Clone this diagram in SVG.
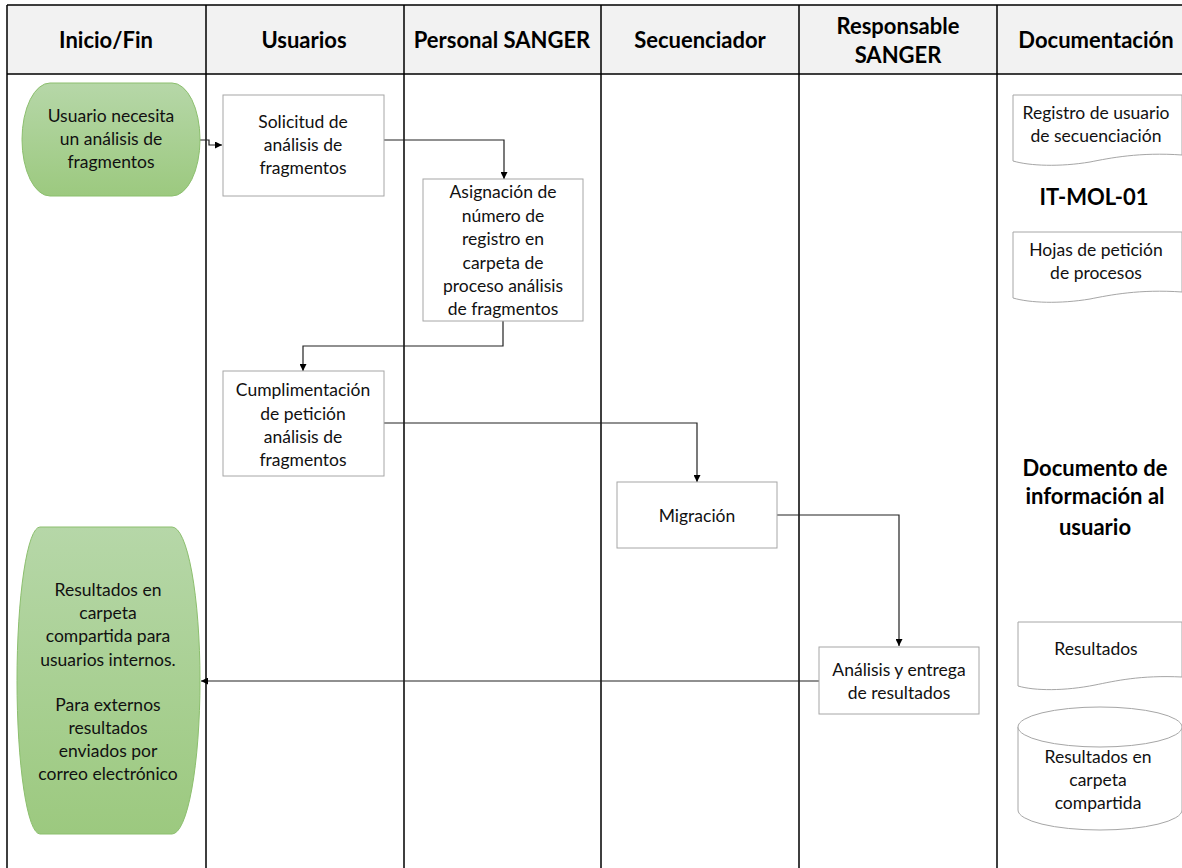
<svg xmlns="http://www.w3.org/2000/svg" width="1182" height="868" viewBox="0 0 1182 868">
  <defs>
    <linearGradient id="green" x1="0" y1="0" x2="0" y2="1">
      <stop offset="0" stop-color="#b6d7a8"/>
      <stop offset="1" stop-color="#9cc97f"/>
    </linearGradient>
    <marker id="arrow" viewBox="0 0 10 10" refX="10" refY="5" markerWidth="7" markerHeight="7" markerUnits="userSpaceOnUse" orient="auto">
      <path d="M0,0 L10,5 L0,10 Z" fill="#000"/>
    </marker>
    <style>
      .lane { stroke: #000; stroke-width: 1.5; fill: none; }
      .head { font-family: Lato, "Liberation Sans", sans-serif; font-weight: bold; font-size: 22px; fill: #000; text-anchor: middle; }
      .txt { font-family: Lato, "Liberation Sans", sans-serif; font-size: 17.5px; fill: #111; text-anchor: middle; }
      .bold { font-family: Lato, "Liberation Sans", sans-serif; font-weight: bold; font-size: 22px; fill: #000; text-anchor: middle; }
      .box { fill: #fff; stroke: #a6a6a6; stroke-width: 1; }
      .term { fill: url(#green); stroke: #8cbf6e; stroke-width: 1; }
      .doc { fill: #fff; stroke: #a6a6a6; stroke-width: 1; }
      .conn { fill: none; stroke: #222; stroke-width: 1.2; }
    </style>
  </defs>

  <rect x="0" y="0" width="1182" height="868" fill="#fff"/>

  <!-- swimlane frame -->
  <g id="lanes">
    <rect x="7" y="5" width="1180" height="69" fill="#f2f2f2"/>
    <path class="lane" d="M7,5 H1182 M7,74 H1182 M7,5 V868 M206,5 V868 M404,5 V868 M601,5 V868 M799,5 V868 M997,5 V868"/>
    <text class="head" x="106" y="48">Inicio/Fin</text>
    <text class="head" x="304" y="48">Usuarios</text>
    <text class="head" x="502" y="48">Personal SANGER</text>
    <text class="head" x="700" y="48">Secuenciador</text>
    <text class="head" x="898" y="34">Responsable</text>
    <text class="head" x="898" y="63">SANGER</text>
    <text class="head" x="1096" y="48">Documentación</text>
  </g>

  <!-- connectors -->
  <g id="connectors">
    <path class="conn" d="M200,140 H209 V145 H222" marker-end="url(#arrow)"/>
    <path class="conn" d="M384,140 H504 V179" marker-end="url(#arrow)"/>
    <path class="conn" d="M503,321 V346 H303 V371" marker-end="url(#arrow)"/>
    <path class="conn" d="M384,423 H697 V482" marker-end="url(#arrow)"/>
    <path class="conn" d="M777,515 H899 V646" marker-end="url(#arrow)"/>
    <path class="conn" d="M819,681 H201" marker-end="url(#arrow)"/>
  </g>

  <g id="start">
    <path class="term" d="M50,83 H172 A28,56.5 0 0 1 172,196 H50 A28,56.5 0 0 1 50,83 Z"/>
    <text class="txt" x="111" y="122">Usuario necesita</text>
    <text class="txt" x="111" y="145">un análisis de</text>
    <text class="txt" x="111" y="168">fragmentos</text>
  </g>

  <g id="solicitud">
    <rect class="box" x="223" y="95" width="161" height="101"/>
    <text class="txt" x="303" y="128">Solicitud de</text>
    <text class="txt" x="303" y="151">análisis de</text>
    <text class="txt" x="303" y="174">fragmentos</text>
  </g>

  <g id="asignacion">
    <rect class="box" x="423" y="179" width="160" height="142"/>
    <text class="txt" x="503" y="198">Asignación de</text>
    <text class="txt" x="503" y="222">número de</text>
    <text class="txt" x="503" y="245">registro en</text>
    <text class="txt" x="503" y="269">carpeta de</text>
    <text class="txt" x="503" y="292">proceso análisis</text>
    <text class="txt" x="503" y="315">de fragmentos</text>
  </g>

  <g id="cumplimentacion">
    <rect class="box" x="223" y="371" width="161" height="105"/>
    <text class="txt" x="303" y="396">Cumplimentación</text>
    <text class="txt" x="303" y="420">de petición</text>
    <text class="txt" x="303" y="443">análisis de</text>
    <text class="txt" x="303" y="466">fragmentos</text>
  </g>

  <g id="migracion">
    <rect class="box" x="617" y="482" width="160" height="66"/>
    <text class="txt" x="697" y="522">Migración</text>
  </g>

  <g id="analisis">
    <rect class="box" x="819" y="647" width="160" height="67"/>
    <text class="txt" x="899" y="676">Análisis y entrega</text>
    <text class="txt" x="899" y="699">de resultados</text>
  </g>

  <g id="end">
    <path class="term" d="M40,527 H172 A28,153.5 0 0 1 172,834 H40 A23,153.5 0 0 1 40,527 Z"/>
    <text class="txt" x="108" y="596">Resultados en</text>
    <text class="txt" x="108" y="619">carpeta</text>
    <text class="txt" x="108" y="642">compartida para</text>
    <text class="txt" x="108" y="666">usuarios internos.</text>
    <text class="txt" x="108" y="711">Para externos</text>
    <text class="txt" x="108" y="734">resultados</text>
    <text class="txt" x="108" y="757">enviados por</text>
    <text class="txt" x="108" y="780">correo electrónico</text>
  </g>

  <g id="doc-registro">
    <path class="doc" d="M1013,95 H1182 V155 C1140,152 1110,158 1090,162 C1060,167 1030,166 1013,161 Z"/>
    <text class="txt" x="1096" y="119">Registro de usuario</text>
    <text class="txt" x="1096" y="142">de secuenciación</text>
  </g>

  <g id="it-mol">
    <text class="bold" x="1094" y="205">IT-MOL-01</text>
  </g>

  <g id="doc-hojas">
    <path class="doc" d="M1013,232 H1182 V292 C1140,289 1110,295 1090,299 C1060,304 1030,303 1013,298 Z"/>
    <text class="txt" x="1096" y="256">Hojas de petición</text>
    <text class="txt" x="1096" y="279">de procesos</text>
  </g>

  <g id="doc-info">
    <text class="bold" x="1095" y="476">Documento de</text>
    <text class="bold" x="1095" y="504">información al</text>
    <text class="bold" x="1095" y="535">usuario</text>
  </g>

  <g id="doc-resultados">
    <path class="doc" d="M1018,622 H1182 V677 C1140,675 1115,681 1095,685 C1065,691 1035,691 1018,686 Z"/>
    <text class="txt" x="1096" y="655">Resultados</text>
  </g>

  <g id="db-resultados">
    <path class="doc" d="M1018,727 A82,20 0 0 1 1182,727 V810 A82,20 0 0 1 1018,810 Z"/>
    <path class="doc" fill="none" d="M1018,727 A82,20 0 0 0 1182,727"/>
    <text class="txt" x="1098" y="763">Resultados en</text>
    <text class="txt" x="1098" y="786">carpeta</text>
    <text class="txt" x="1098" y="809">compartida</text>
  </g>
</svg>
